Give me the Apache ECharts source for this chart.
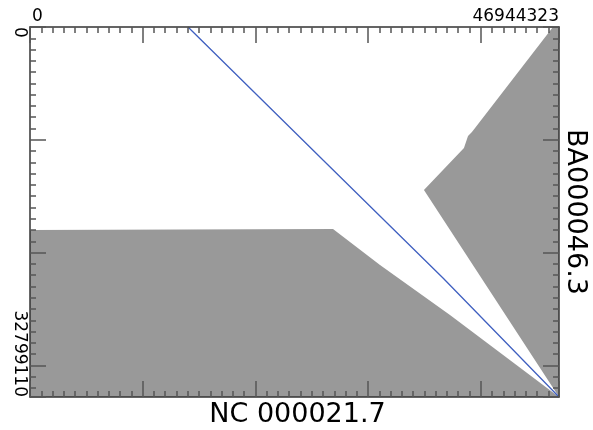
<!DOCTYPE html>
<html><head><meta charset="utf-8">
<script src="https://cdn.jsdelivr.net/npm/echarts@6/dist/echarts.min.js"></script>
<style>html,body{margin:0;padding:0;background:#fff}#c{width:593px;height:430px}</style>
</head><body><div id="c"></div>
<script>
// ---- data ----
const X_MAX = 46944323;
const Y_MAX = 32799110;
const xTickLabels = ['0', '46944323'];
const yTickLabels = ['0', '32799110'];
const xName = 'NC 000021.7';
const yName = 'BA000046.3';
// lower-left gray alignment region (vertices)
const lowerX = [0, 26890000, 31060000, 37270000, 46944323, 0];
const lowerY = [18000000, 17910000, 21100000, 25530000, 32799110, 32799110];
// upper-right gray alignment region (vertices)
const upperX = [46410000, 39220000, 38870000, 38510000, 34960000, 46944323, 46944323];
const upperY = [0, 9310000, 9660000, 10730000, 14450000, 32799110, 0];
// blue match line
const blueX = [14020000, 26000000, 36650000, 46944323];
const blueY = [0, 11790000, 22250000, 32799110];

// ---- chart ----
const FONT = 'DejaVu Sans';
const tickColor = '#555';
function minorAxis(pos, max, inverse) {
  return {
    gridIndex: 0, type: 'value', position: pos, min: 0, max: max, interval: 1000000,
    inverse: !!inverse, z: 10,
    axisLine: {show: true, onZero: false, lineStyle: {color: '#333', width: 1.5}},
    axisTick: {show: true, inside: true, length: 6, lineStyle: {color: tickColor, width: 1.5}},
    axisLabel: {show: false}, splitLine: {show: false}
  };
}
function majorAxis(pos, max, inverse) {
  return {
    gridIndex: 1, type: 'value', position: pos, min: 0, max: max, interval: 10000000,
    inverse: !!inverse, z: 10,
    axisLine: {show: false, onZero: false},
    axisTick: {show: true, inside: true, length: 16, lineStyle: {color: tickColor, width: 1.5}},
    axisLabel: {show: false}, splitLine: {show: false}
  };
}
const xTop = majorAxis('top', X_MAX);
xTop.axisLabel = {
  show: true, showMinLabel: true, showMaxLabel: true,
  alignMinLabel: 'left', alignMaxLabel: 'right',
  fontSize: 17, fontFamily: FONT, color: '#000', margin: 2, padding: [0, 0, 0, 2],
  formatter: v => v === 0 ? xTickLabels[0] : (v === X_MAX ? xTickLabels[1] : '')
};
const xBottom = majorAxis('bottom', X_MAX);
xBottom.name = xName;
xBottom.nameLocation = 'middle';
xBottom.nameGap = 4;
xBottom.nameTextStyle = {fontSize: 27, fontFamily: FONT, color: '#000', padding: [0, 0, 0, 6]};

const yLeft = majorAxis('left', Y_MAX, true);
yLeft.axisLabel = {
  show: true, showMinLabel: true, showMaxLabel: true, rotate: -90,
  alignMinLabel: 'left', alignMaxLabel: 'right',
  fontSize: 17, fontFamily: FONT, color: '#000', margin: 2,
  formatter: v => v === 0 ? yTickLabels[0] : (v === Y_MAX ? yTickLabels[1] : '')
};
const yRight = majorAxis('right', Y_MAX, true);
yRight.name = yName;
yRight.nameLocation = 'middle';
yRight.nameRotate = -90;
yRight.nameGap = 3;
yRight.nameTextStyle = {fontSize: 27, fontFamily: FONT, color: '#000'};

function polyRender(xs, ys) {
  return function (params, api) {
    if (params.dataIndex !== 0) return null;
    const pts = xs.map((x, i) => api.coord([x, ys[i]]));
    return {type: 'polygon', shape: {points: pts}, style: {fill: '#999999', stroke: null}};
  };
}

const grid = {left: 30, right: 34, top: 27, bottom: 33, containLabel: false, outerBoundsMode: 'none'};
const option = {
  animation: false,
  backgroundColor: '#fff',
  grid: [Object.assign({}, grid), Object.assign({}, grid)],
  xAxis: [minorAxis('top', X_MAX), minorAxis('bottom', X_MAX), xTop, xBottom],
  yAxis: [minorAxis('left', Y_MAX, true), minorAxis('right', Y_MAX, true), yLeft, yRight],
  series: [
    {type: 'custom', coordinateSystem: 'cartesian2d', xAxisIndex: 0, yAxisIndex: 0, clip: true, z: 1,
     data: lowerX.map((x, i) => [x, lowerY[i]]), renderItem: polyRender(lowerX, lowerY), silent: true},
    {type: 'custom', coordinateSystem: 'cartesian2d', xAxisIndex: 0, yAxisIndex: 0, clip: true, z: 1,
     data: upperX.map((x, i) => [x, upperY[i]]), renderItem: polyRender(upperX, upperY), silent: true},
    {type: 'line', xAxisIndex: 0, yAxisIndex: 0, z: 3, showSymbol: false, symbol: 'none',
     data: blueX.map((x, i) => [x, blueY[i]]),
     lineStyle: {color: '#4060c0', width: 1.3}}
  ]
};
const chart = echarts.init(document.getElementById('c'), null, {renderer: 'canvas'});
chart.setOption(option);
</script>
</body></html>
